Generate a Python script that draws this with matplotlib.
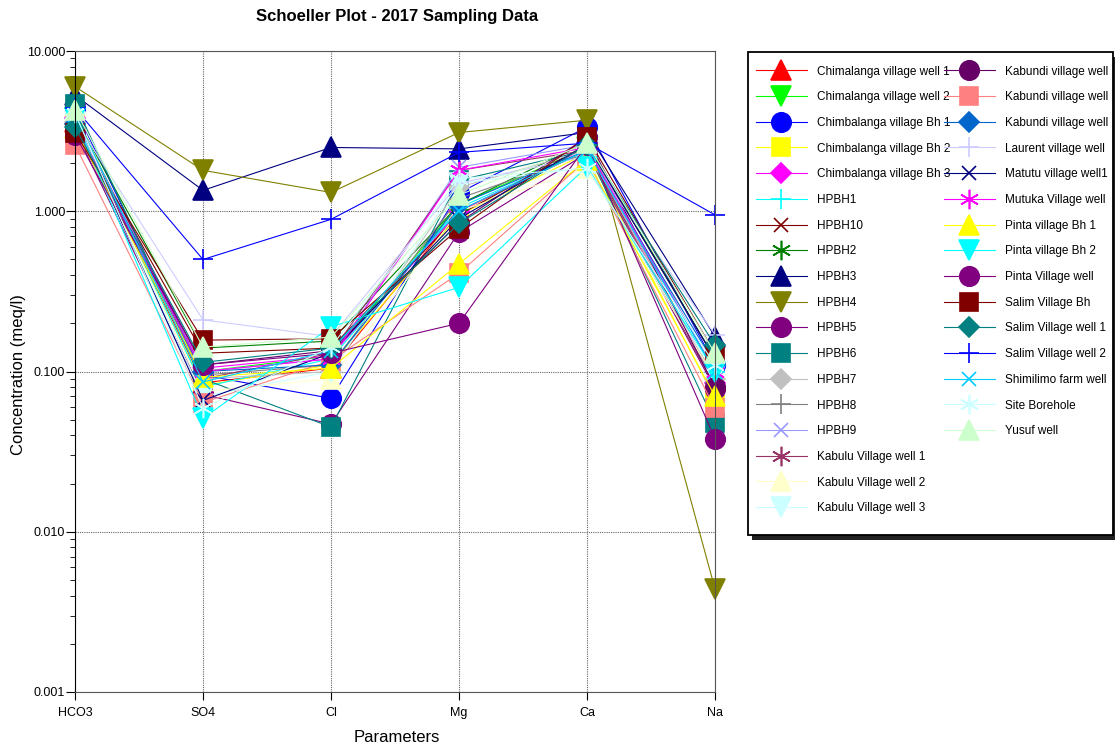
import matplotlib.pyplot as plt
from matplotlib.lines import Line2D
from matplotlib.patches import Rectangle
from matplotlib.ticker import FuncFormatter, LogLocator, NullFormatter

plt.rcParams['font.family'] = ['Liberation Sans', 'DejaVu Sans']

# Schoeller diagram, major ions in meq/l
params = ["HCO3", "SO4", "Cl", "Mg", "Ca", "Na"]

wells = [
    "Chimalanga village well 1", "Chimalanga village well 2",
    "Chimbalanga village Bh 1", "Chimbalanga village Bh 2", "Chimbalanga village Bh 3",
    "HPBH1", "HPBH10", "HPBH2", "HPBH3", "HPBH4", "HPBH5", "HPBH6", "HPBH7",
    "HPBH8", "HPBH9", "Kabulu Village well 1", "Kabulu Village well 2",
    "Kabulu Village well 3", "Kabundi village well", "Kabundi village well",
    "Kabundi village well", "Laurent village well", "Matutu village well1",
    "Mutuka Village well", "Pinta village Bh 1", "Pinta village Bh 2",
    "Pinta Village well", "Salim Village Bh", "Salim Village well 1",
    "Salim Village well 2", "Shimilimo farm well", "Site Borehole", "Yusuf well",
]

hco3 = [3.6, 3.9, 4.4, 3.5, 3.8, 3.7, 3.4, 3.9, 5.3, 6.0, 3.2, 4.7, 3.6, 3.5, 3.8, 3.4, 3.7,
        3.6, 3.2, 2.6, 3.5, 3.7, 3.7, 3.5, 3.3, 3.8, 3.0, 3.1, 3.35, 4.4, 4.0, 4.1, 4.3]
so4 = [0.085, 0.10, 0.095, 0.082, 0.105, 0.08, 0.13, 0.14, 1.35, 1.8, 0.072, 0.09, 0.09,
       0.095, 0.10, 0.09, 0.075, 0.07, 0.11, 0.064, 0.10, 0.21, 0.066, 0.10, 0.092, 0.051,
       0.11, 0.157, 0.114, 0.5, 0.086, 0.059, 0.142]
cl = [0.105, 0.125, 0.068, 0.11, 0.125, 0.12, 0.14, 0.155, 2.5, 1.31, 0.047, 0.045, 0.10,
      0.11, 0.12, 0.13, 0.09, 0.10, 0.135, 0.117, 0.11, 0.165, 0.13, 0.12, 0.105, 0.19,
      0.13, 0.16, 0.14, 0.89, 0.135, 0.142, 0.164]
mg = [1.0, 1.1, 1.3, 0.95, 1.0, 1.05, 0.95, 1.1, 2.45, 3.1, 0.74, 1.56, 1.41, 1.2, 1.88,
      1.8, 1.0, 1.5, 0.85, 0.41, 1.1, 1.5, 0.9, 1.8, 0.47, 0.335, 0.2, 0.78, 0.84, 2.33,
      1.01, 1.6, 1.26]
ca = [2.4, 2.5, 3.35, 2.3, 2.5, 2.4, 2.6, 2.7, 3.1, 3.7, 2.3, 2.4, 2.4, 2.3, 2.6, 2.4,
      1.86, 1.86, 2.9, 2.1, 2.4, 2.2, 2.6, 2.5, 2.1, 1.9, 2.6, 2.9, 2.6, 2.66, 2.4, 1.86, 2.66]
na = [0.09, 0.10, 0.11, 0.068, 0.085, 0.10, 0.12, 0.12, 0.165, 0.0044, 0.078, 0.048, 0.09,
      0.085, 0.10, 0.08, 0.09, 0.095, 0.08, 0.059, 0.11, 0.17, 0.12, 0.10, 0.07, 0.10,
      0.038, 0.13, 0.146, 0.95, 0.10, 0.11, 0.13]

colors = [
    "#FF0000", "#00FF00", "#0000FF", "#FFFF00", "#FF00FF", "#00FFFF", "#800000", "#008000",
    "#000080", "#808000", "#800080", "#008080", "#C0C0C0", "#808080", "#9999FF", "#993366",
    "#FFFFCC", "#CCFFFF", "#660066", "#FF8080", "#0066CC", "#CCCCFF", "#000080", "#FF00FF",
    "#FFFF00", "#00FFFF", "#800080", "#800000", "#008080", "#0000FF", "#00CCFF", "#CCFFFF",
    "#CCFFCC",
]
asterisk = (6, 2, 0)
marker_cycle = ["^", "v", "o", "s", "D", "+", "x", asterisk]
marker_size = {"^": 14, "v": 14, "o": 14, "s": 13, "D": 10, "+": 14, "x": 10, asterisk: 14}

W, H = 1115, 751
fig = plt.figure(figsize=(W / 100, H / 100), dpi=100)
ax = fig.add_axes([75 / W, 59 / H, 640 / W, 641 / H])

x = list(range(len(params)))
lines = []
for i, name in enumerate(wells):
    m = marker_cycle[i % len(marker_cycle)]
    y = [hco3[i], so4[i], cl[i], mg[i], ca[i], na[i]]
    ln, = ax.plot(x, y, color=colors[i], lw=0.8, marker=m, ms=marker_size[m],
                  mfc=colors[i], mec=colors[i], mew=1.2, clip_on=False, label=name)
    lines.append(ln)

ax.set_yscale("log")
ax.set_ylim(0.001, 10)
ax.set_xlim(0, 5)
ax.set_xticks(x)
ax.set_xticklabels(params)
ax.yaxis.set_major_formatter(FuncFormatter(lambda v, p: f"{v:.3f}"))
ax.yaxis.set_minor_locator(LogLocator(base=10, subs=range(2, 10)))
ax.yaxis.set_minor_formatter(NullFormatter())
ax.tick_params(axis="y", which="major", labelsize=9, length=6.5, pad=0.5, direction="out")
ax.tick_params(axis="x", which="major", labelsize=9, length=5.5, pad=5, direction="out")
ax.tick_params(axis="y", which="minor", length=3.5, direction="out")

ax.set_axisbelow(True)
ax.grid(True, which="major", color="#666666", lw=0.8, ls=(0, (1, 1)))
for side in ["top", "right", "bottom"]:
    ax.spines[side].set_color("#555555")
ax.spines["left"].set_color("black")

fig.text(397 / W, 1 - 16 / H, "Schoeller Plot - 2017 Sampling Data",
         ha="center", va="center", fontsize=12, fontweight="bold")
fig.text(19 / W, 1 - 375 / H, "Concentration (meq/l)", rotation=90,
         ha="center", va="center", fontsize=12)
fig.text(397 / W, 1 - 738 / H, "Parameters", ha="center", va="center", fontsize=12)

# legend box with a drop shadow, drawn by hand so it can sit tight on the text
box_x0, box_y0, box_x1, box_y1 = 748, 52, 1113, 535
fig.add_artist(Rectangle(((box_x0 + 4) / W, 1 - (box_y1 + 5) / H),
                         (box_x1 - box_x0) / W, (box_y1 - box_y0) / H,
                         transform=fig.transFigure, facecolor="#222222",
                         edgecolor="none", zorder=1))
fig.add_artist(Rectangle((box_x0 / W, 1 - box_y1 / H),
                         (box_x1 - box_x0) / W, (box_y1 - box_y0) / H,
                         transform=fig.transFigure, facecolor="white",
                         edgecolor="black", lw=1.3, zorder=2))

# pad the second column so it holds 15 entries next to 18 in the first
blank = Line2D([], [], linestyle="none")
handles = lines + [blank] * 3
labels = wells + [""] * 3
leg = fig.legend(handles, labels, loc="upper left", bbox_to_anchor=(756 / W, 1 - 65.5 / H),
                 borderaxespad=0, ncol=2, fontsize=8.5, handlelength=4.3, handletextpad=0.85,
                 labelspacing=1.16, columnspacing=-0.55, borderpad=0, frameon=False)
leg.set_zorder(3)

fig.savefig("out.png", dpi=100)
